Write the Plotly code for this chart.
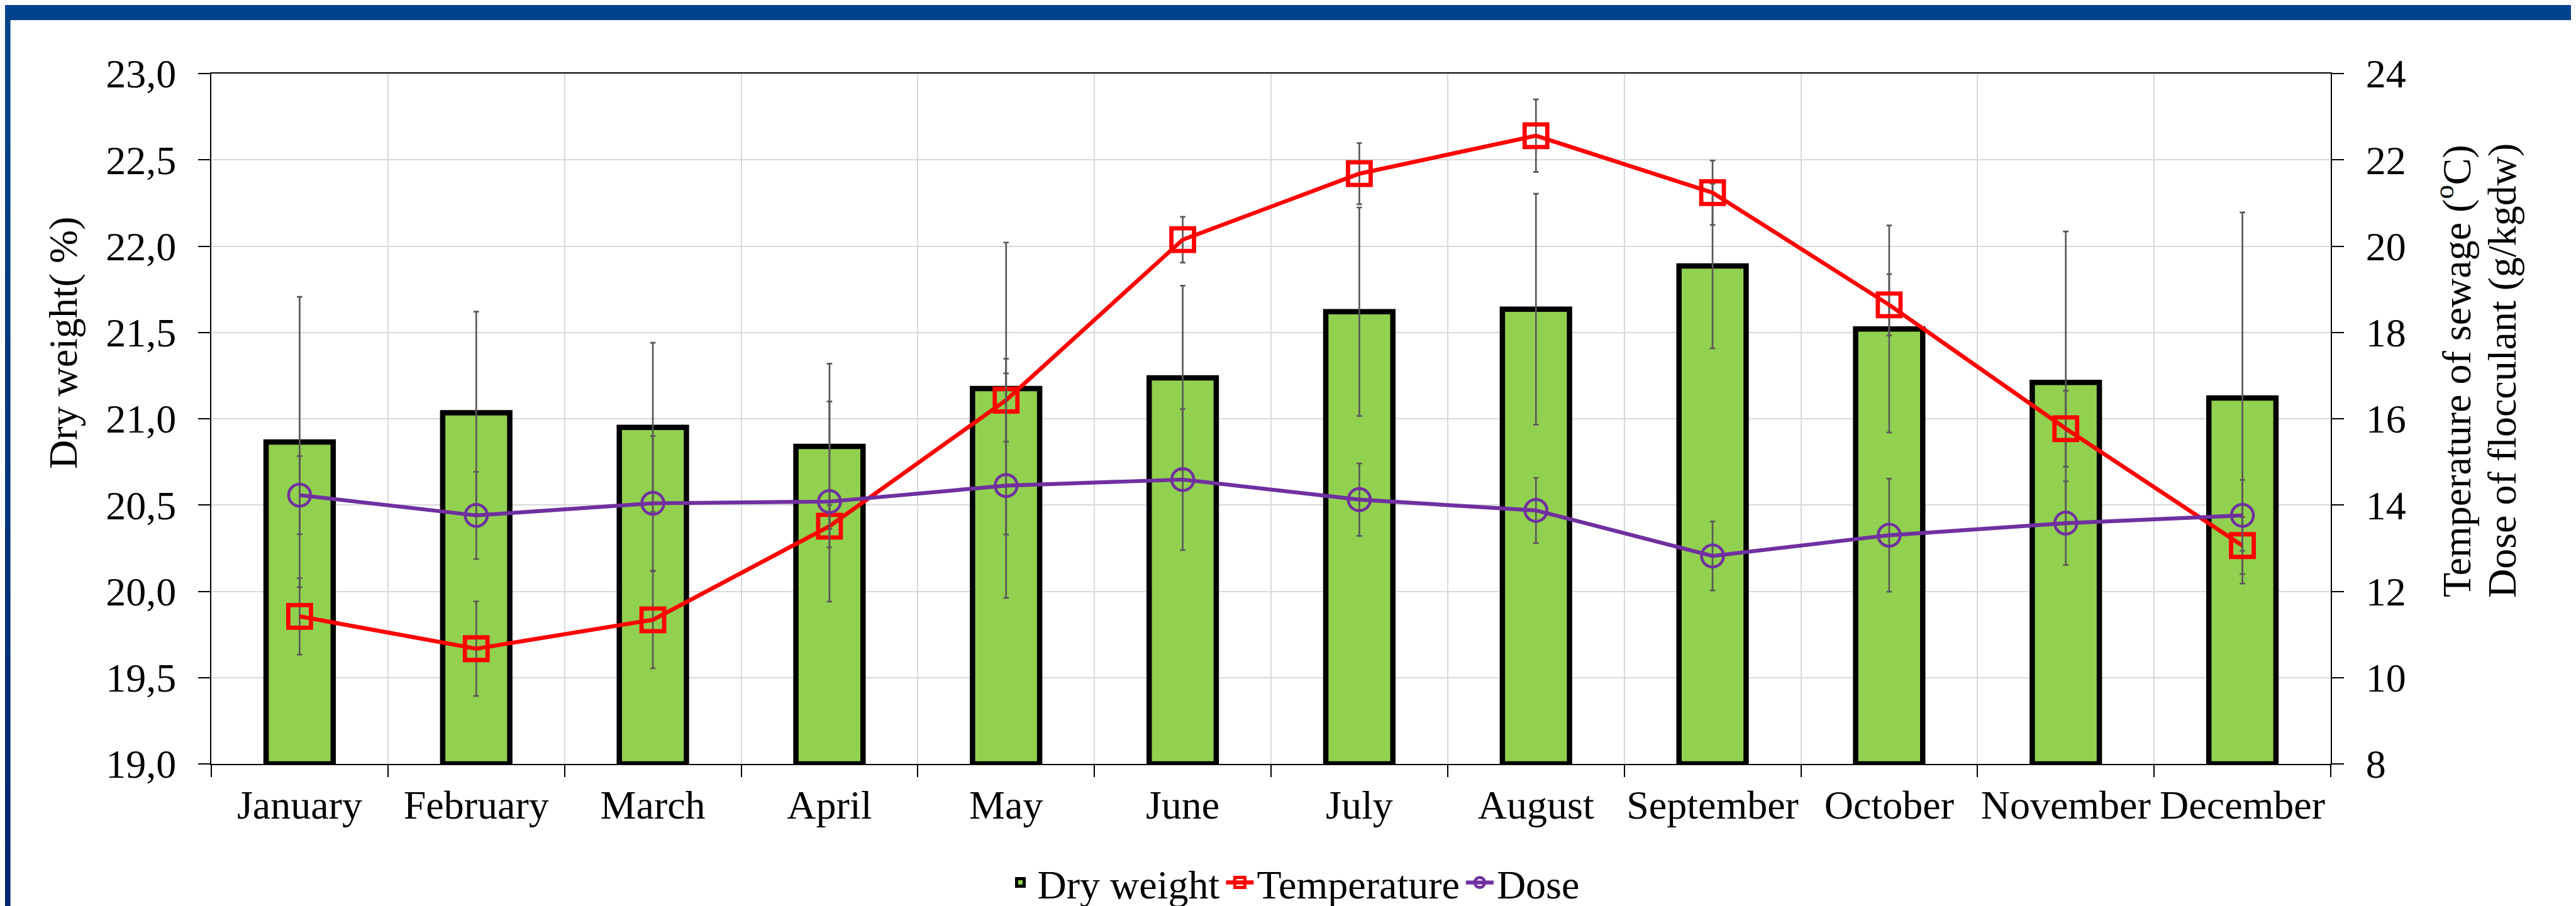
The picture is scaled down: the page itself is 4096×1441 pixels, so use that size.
import plotly.graph_objects as go

# ---------------- data ----------------
months = ["January", "February", "March", "April", "May", "June",
          "July", "August", "September", "October", "November", "December"]
dry_weight = [20.865, 21.035, 20.95, 20.84, 21.175, 21.237,
              21.62, 21.635, 21.885, 21.52, 21.21, 21.12]
dry_weight_err = [0.841, 0.586, 0.49, 0.479, 0.846, 0.534,
                  0.604, 0.669, 0.477, 0.60, 0.875, 1.075]
temperature = [11.42, 10.67, 11.34, 13.51, 16.43, 20.15,
               21.68, 22.56, 21.24, 18.64, 15.77, 13.06]
temperature_err = [0.885, 1.094, 1.125, 0.49, 0.96, 0.53,
                   0.71, 0.84, 0.745, 0.71, 0.88, 0.66]
dose = [14.23, 13.76, 14.04, 14.08, 14.45, 14.59,
        14.125, 13.875, 12.82, 13.30, 13.58, 13.76]
dose_err = [0.906, 1.01, 1.56, 2.32, 2.6, 1.635,
            0.84, 0.755, 0.80, 1.31, 0.97, 0.82]
left_ticks = [19.0, 19.5, 20.0, 20.5, 21.0, 21.5, 22.0, 22.5, 23.0]
right_ticks = [8, 10, 12, 14, 16, 18, 20, 22, 24]

# ---------------- geometry ----------------
W, H = 4096, 1441
L, R, T, B = 328, 398, 109, 234
PW, PH = W - L - R, H - T - B


def px_x(x):
    return (x - L) / PW


def px_y(y):
    return (H - B - y) / PH


FONT = "Liberation Serif"
FS = 64
BASE = 19.0
GRID = "#D9D9D9"
ERR = "#595959"

fig = go.Figure()

fig.add_trace(go.Bar(
    x=months, y=[v - BASE for v in dry_weight], base=BASE,
    name="Dry weight", width=0.38,
    marker=dict(color="#92D050", line=dict(color="black", width=8.5)),
    error_y=dict(type="data", array=dry_weight_err, color=ERR,
                 thickness=2.7, width=4.3),
    yaxis="y"))

fig.add_trace(go.Scatter(
    x=months, y=temperature, name="Temperature", mode="lines+markers",
    line=dict(color="#FF0000", width=6.5),
    marker=dict(symbol="square-open", size=36, color="#FF0000",
                line=dict(color="#FF0000", width=6.8)),
    error_y=dict(type="data", array=temperature_err, color=ERR,
                 thickness=2.7, width=4.3),
    yaxis="y2", cliponaxis=False))

fig.add_trace(go.Scatter(
    x=months, y=dose, name="Dose", mode="lines+markers",
    line=dict(color="#7030A0", width=6.2),
    marker=dict(symbol="circle-open", size=35, color="#7030A0",
                line=dict(color="#7030A0", width=4.6)),
    error_y=dict(type="data", array=dose_err, color=ERR,
                 thickness=2.7, width=4.3),
    yaxis="y2", cliponaxis=False))

axis_common = dict(
    showline=True, linecolor="black", linewidth=1.8,
    ticks="outside", ticklen=19, tickwidth=1.8, tickcolor="black",
    tickfont=dict(family=FONT, size=FS, color="black"),
    zeroline=False,
)

shapes = []
# top band
shapes.append(dict(type="rect", xref="paper", yref="paper",
                   x0=px_x(-5), x1=px_x(W + 5), y0=px_y(24), y1=px_y(-5),
                   fillcolor="#00438A", line=dict(width=0), layer="above"))
# left band with slight vertical gradient
n = 14
c_top = (0x00, 0x44, 0x88)
c_bot = (0x00, 0x24, 0x6F)
for i in range(n):
    t = i / (n - 1)
    col = "rgb(%d,%d,%d)" % tuple(round(a + (b - a) * t) for a, b in zip(c_top, c_bot))
    y0 = 24 + (H - 24) * i / n
    y1 = 24 + (H - 24) * (i + 1) / n
    shapes.append(dict(type="rect", xref="paper", yref="paper",
                       x0=px_x(-5), x1=px_x(8.6), y0=px_y(y1 + 1), y1=px_y(y0),
                       fillcolor=col, line=dict(width=0), layer="above"))

annotations = [
    dict(text="Dry weight( %)", xref="paper", yref="paper",
         x=px_x(92), y=px_y(537), textangle=-90, showarrow=False,
         xanchor="center", yanchor="middle",
         font=dict(family=FONT, size=FS, color="black")),
    dict(text="Temperature of sewage (<sup>o</sup>C)", xref="paper", yref="paper",
         x=px_x(3893), y=px_y(582), textangle=-90, showarrow=False,
         xanchor="center", yanchor="middle",
         font=dict(family=FONT, size=FS, color="black")),
    dict(text="Dose of flocculant (g/kgdw)", xref="paper", yref="paper",
         x=px_x(3970), y=px_y(582), textangle=-90, showarrow=False,
         xanchor="center", yanchor="middle",
         font=dict(family=FONT, size=FS, color="black")),
]

fig.update_layout(
    width=W, height=H,
    margin=dict(l=L, r=R, t=T, b=B, autoexpand=False),
    paper_bgcolor="white", plot_bgcolor="white",
    separators=",.",
    font=dict(family=FONT, size=FS, color="black"),
    xaxis=dict(type="category", tickson="boundaries", range=[-0.5, 11.5],
               showgrid=True, gridcolor=GRID, gridwidth=1.5, mirror=True,
               tickangle=0, ticklabelstandoff=8, **axis_common),
    yaxis=dict(range=[19, 23], tickvals=left_ticks, tickformat=".1f",
               showgrid=True, gridcolor=GRID, gridwidth=1.5,
               ticklabelstandoff=22, **axis_common),
    yaxis2=dict(range=[8, 24], tickvals=right_ticks, overlaying="y",
                side="right", showgrid=False,
                ticklabelstandoff=22, **axis_common),
    showlegend=True,
    legend=dict(orientation="h", xref="container", yref="container",
                x=0.5, xanchor="center", y=1 - 1396 / H, yanchor="middle",
                font=dict(family=FONT, size=FS, color="black"),
                bgcolor="rgba(0,0,0,0)", itemwidth=44,
                traceorder="normal"),
    shapes=shapes,
    annotations=annotations,
)

fig.write_html("out.html")
